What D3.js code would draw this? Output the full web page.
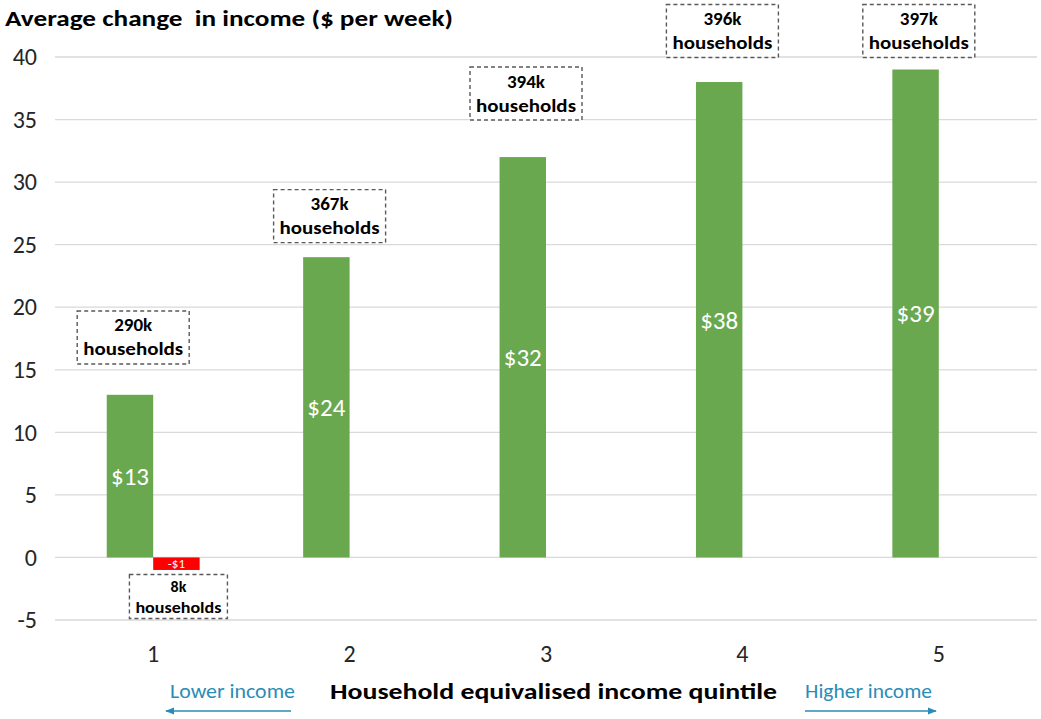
<!DOCTYPE html>
<html><head><meta charset="utf-8">
<script src="https://cdn.jsdelivr.net/npm/d3@7"></script>
<style>
body{margin:0;background:#fff;}
text{font-family:Carlito,Calibri,Lato,"Open Sans",sans-serif;}
</style></head>
<body><svg id="chart" width="1041" height="719"></svg>
<script>
const categories = ["1","2","3","4","5"];
const gainValues = [13, 24, 32, 38, 39];
const lossValues = [-1, 0, 0, 0, 0];
const gainHouseholds = ["290k","367k","394k","396k","397k"];
const lossHouseholds = ["8k","","","",""];
const gainBoxTop = [19.7, 29.4, 39.2, 44.2, 44.2]; // annotation box top, in $ units
const yTicks = [-5, 0, 5, 10, 15, 20, 25, 30, 35, 40];

const svg = d3.select("#chart");
const plotLeft = 55, plotRight = 1037, plotTop = 57, plotBottom = 620;

const y = d3.scaleLinear().domain([-5, 40]).range([plotBottom, plotTop]);
const x0 = d3.scaleBand().domain(categories).range([plotLeft, plotRight]).paddingInner(0.527).paddingOuter(0.2635);
const x1 = d3.scaleBand().domain(["gain","loss"]).range([0, x0.bandwidth()]);

// gridlines
svg.append("g").selectAll("line").data(yTicks).join("line")
  .attr("x1", plotLeft).attr("x2", plotRight)
  .attr("y1", d => y(d)).attr("y2", d => y(d))
  .attr("stroke", "#d9d9d9").attr("stroke-width", 1.3);

// y axis
const yAxis = d3.axisLeft(y).tickValues(yTicks).tickSize(0).tickPadding(0).tickFormat(d => String(d));
const ya = svg.append("g").attr("transform", "translate(37,0)").call(yAxis);
ya.select(".domain").remove();
ya.selectAll("text").attr("font-size", 24).attr("fill", "#262626")
  .style("font-family", "Carlito,Calibri,Lato,sans-serif");

// x axis
const xAxis = d3.axisBottom(x0).tickSize(0).tickPadding(0);
const xa = svg.append("g").attr("transform", `translate(0,${y(-5) + 25})`).call(xAxis);
xa.select(".domain").remove();
xa.selectAll("text").attr("font-size", 24).attr("fill", "#262626")
  .style("font-family", "Carlito,Calibri,Lato,sans-serif");

// bars
const groups = svg.append("g").selectAll("g").data(categories).join("g")
  .attr("transform", d => `translate(${x0(d)},0)`);

groups.append("rect")
  .attr("x", x1("gain")).attr("width", x1.bandwidth())
  .attr("y", (d,i) => y(gainValues[i]))
  .attr("height", (d,i) => y(0) - y(gainValues[i]))
  .attr("fill", "#6aa84f");

groups.filter((d,i) => lossValues[i] !== 0).append("rect")
  .attr("x", x1("loss")).attr("width", x1.bandwidth())
  .attr("y", y(0))
  .attr("height", d => y(lossValues[categories.indexOf(d)]) - y(0))
  .attr("fill", "#ff0000");

// value labels
groups.append("text")
  .attr("x", x1("gain") + x1.bandwidth()/2)
  .attr("y", (d,i) => (y(gainValues[i]) + y(0))/2)
  .attr("dy", "0.36em").attr("text-anchor", "middle")
  .attr("font-size", 25).attr("fill", "#fff")
  .text((d,i) => "$" + gainValues[i]);

groups.filter((d,i) => lossValues[i] !== 0).append("text")
  .attr("x", x1("loss") + x1.bandwidth()/2)
  .attr("y", d => (y(lossValues[categories.indexOf(d)]) + y(0))/2)
  .attr("dy", "0.36em").attr("text-anchor", "middle")
  .attr("font-size", 13).attr("fill", "#fff")
  .text(d => "-$" + Math.abs(lossValues[categories.indexOf(d)]));

// annotation boxes
function box(g, cx, ty, w, h, line1, fs, b1, b2, hw) {
  g.append("rect").attr("x", cx - w/2).attr("y", ty).attr("width", w).attr("height", h)
    .attr("fill", "#fff").attr("stroke", "#595959").attr("stroke-width", 1.4)
    .attr("stroke-dasharray", "4,3");
  g.append("text").attr("x", cx).attr("y", ty + b1)
    .attr("text-anchor", "middle").attr("font-weight", "bold").attr("font-size", fs)
    .attr("fill", "#000").text(line1);
  g.append("text").attr("x", cx - hw/2).attr("y", ty + b2)
    .attr("font-weight", "bold").attr("font-size", fs)
    .attr("textLength", hw).attr("lengthAdjust", "spacingAndGlyphs")
    .attr("fill", "#000").text("households");
}
const ann = svg.append("g");
categories.forEach((c, i) => {
  const cx = x0(c) + x0.bandwidth()/2 - 20;
  box(ann, cx, y(gainBoxTop[i]), 112, 53, gainHouseholds[i], 19, 20.5, 44.5, 100);
  if (lossHouseholds[i]) {
    const lcx = x0(c) + x1("loss") + x1.bandwidth()/2 + 2;
    box(ann, lcx, y(0) + 17, 98, 44, lossHouseholds[i], 16, 18, 38.5, 86);
  }
});

// title
svg.append("text").attr("x", 5).attr("y", 26)
  .attr("font-size", 23).attr("font-weight", "bold").attr("fill", "#000")
  .attr("textLength", 448).attr("lengthAdjust", "spacingAndGlyphs")
  .style("white-space", "pre")
  .text("Average change  in income ($ per week)");

// x axis title
svg.append("text").attr("x", 330).attr("y", 699)
  .attr("font-size", 23).attr("font-weight", "bold").attr("fill", "#000")
  .attr("textLength", 447).attr("lengthAdjust", "spacingAndGlyphs")
  .text("Household equivalised income quintile");

// direction hints
const teal = "#2a8db6";
svg.append("defs").html(`<marker id="ah" viewBox="0 0 10 10" refX="9" refY="5" markerWidth="7" markerHeight="7" orient="auto-start-reverse"><path d="M0,1 L10,5 L0,9 z" fill="${teal}"/></marker>`);
svg.append("text").attr("x", 170).attr("y", 698)
  .attr("font-size", 19.5).attr("fill", teal)
  .attr("textLength", 125).attr("lengthAdjust", "spacingAndGlyphs").text("Lower income");
svg.append("text").attr("x", 805).attr("y", 698)
  .attr("font-size", 19.5).attr("fill", teal)
  .attr("textLength", 127).attr("lengthAdjust", "spacingAndGlyphs").text("Higher income");
svg.append("line").attr("x1", 291).attr("x2", 166).attr("y1", 711).attr("y2", 711)
  .attr("stroke", teal).attr("stroke-width", 1.3).attr("marker-end", "url(#ah)");
svg.append("line").attr("x1", 805).attr("x2", 936).attr("y1", 711).attr("y2", 711)
  .attr("stroke", teal).attr("stroke-width", 1.3).attr("marker-end", "url(#ah)");
</script></body></html>
